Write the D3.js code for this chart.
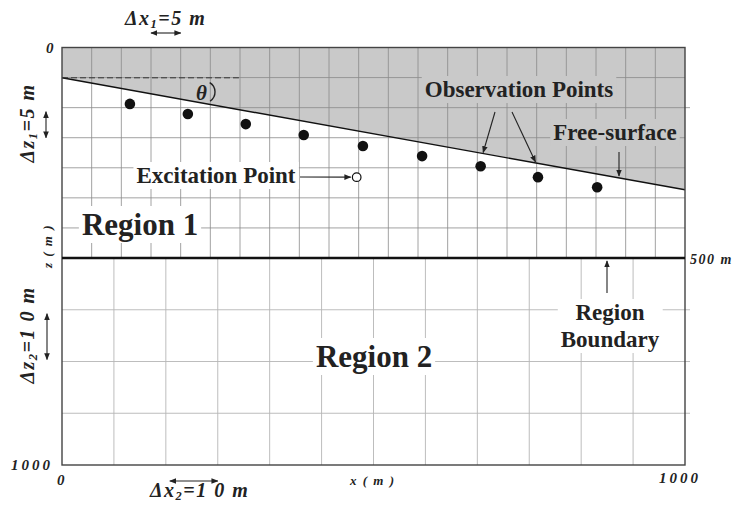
<!DOCTYPE html>
<html>
<head>
<meta charset="utf-8">
<script src="https://cdn.jsdelivr.net/npm/d3@7"></script>
<style>
  body { margin: 0; background: #fff; }
  svg { display: block; }
  text { font-family: "Liberation Serif", "DejaVu Serif", serif; font-weight: bold; fill: #222; }
  .it { font-style: italic; }
</style>
</head>
<body>
<svg id="chart" width="736" height="505"></svg>
<script>
// model domain (m)
var xDomain = [0, 1000];
var zDomain = [0, 500, 1000];

// grid cells of the two regions
var region1Cols = 21, region1Rows = 7;
var region2Cols = 12, region2Rows = 4;

// sloping free surface (depth at x = 0 and x = 1000)
var surfaceX = [0, 1000];
var surfaceZ = [72, 338];

// observation points and excitation point
var obsX = [109, 202, 295, 388, 483, 578, 672, 764, 859];
var obsZ = [134, 158, 182, 208, 234, 258, 282, 308, 332];
var excX = [473];
var excZ = [308];

// axis labels
var xTickLabels = ["0", "1000"];
var zTickLabels = ["0", "1000"];
var boundaryLabel = "500 m";

var svg = d3.select("#chart");

var x = d3.scaleLinear().domain(xDomain).range([62, 685]);
var z = d3.scaleLinear().domain(zDomain).range([47.5, 258, 465]);

var defs = svg.append("defs");
defs.append("marker")
    .attr("id", "head")
    .attr("viewBox", "0 0 10 10")
    .attr("refX", 9).attr("refY", 5)
    .attr("markerWidth", 7).attr("markerHeight", 7)
    .attr("markerUnits", "userSpaceOnUse")
    .attr("orient", "auto-start-reverse")
  .append("path")
    .attr("d", "M0,1 L10,5 L0,9 Z")
    .attr("fill", "#222");

var col1 = (xDomain[1] - xDomain[0]) / region1Cols;
var row1 = (zDomain[1] - zDomain[0]) / region1Rows;
var col2 = (xDomain[1] - xDomain[0]) / region2Cols;
var row2 = (zDomain[2] - zDomain[1]) / region2Rows;

// shaded area above the free surface
var surface = surfaceX.map(function (d, i) { return [d, surfaceZ[i]]; });
svg.append("path")
    .attr("d", d3.line()([[x(0), z(0)], [x(1000), z(0)]].concat(surface.slice().reverse().map(function (p) { return [x(p[0]), z(p[1])]; }))) + "Z")
    .attr("fill", "#c9c9c9");

// grid, region 1
var g1 = svg.append("g").attr("stroke", "#8a8a8a").attr("stroke-width", 0.8);
g1.selectAll(".v1").data(d3.range(1, region1Cols)).enter().append("line")
    .attr("x1", function (d) { return x(d * col1); }).attr("x2", function (d) { return x(d * col1); })
    .attr("y1", z(0)).attr("y2", z(500));
g1.selectAll(".h1").data(d3.range(1, region1Rows)).enter().append("line")
    .attr("x1", x(0)).attr("x2", function (d) { return d == 2 ? x(1000) + 5 : x(1000); })
    .attr("y1", function (d) { return z(d * row1); }).attr("y2", function (d) { return z(d * row1); });

// grid, region 2
var g2 = svg.append("g").attr("stroke", "#b5b5b5").attr("stroke-width", 0.9);
g2.selectAll(".v2").data(d3.range(1, region2Cols)).enter().append("line")
    .attr("x1", function (d) { return x(d * col2); }).attr("x2", function (d) { return x(d * col2); })
    .attr("y1", z(500)).attr("y2", z(1000));
g2.selectAll(".h2").data(d3.range(1, region2Rows)).enter().append("line")
    .attr("x1", x(0)).attr("x2", x(1000) + 5)
    .attr("y1", function (d) { return z(500 + d * row2); }).attr("y2", function (d) { return z(500 + d * row2); });

// free surface line and horizontal reference
svg.append("path")
    .attr("d", d3.line().x(function (d) { return x(d[0]); }).y(function (d) { return z(d[1]); })(surface))
    .attr("stroke", "#111").attr("stroke-width", 1.4).attr("fill", "none");
svg.append("line")
    .attr("x1", x(0)).attr("x2", x(284))
    .attr("y1", z(surfaceZ[0])).attr("y2", z(surfaceZ[0]))
    .attr("stroke", "#333").attr("stroke-width", 1).attr("stroke-dasharray", "6,3");

// frame and region boundary
svg.append("rect")
    .attr("x", x(0)).attr("y", z(0))
    .attr("width", x(1000) - x(0)).attr("height", z(1000) - z(0))
    .attr("fill", "none").attr("stroke", "#444").attr("stroke-width", 1.4);
svg.append("line")
    .attr("x1", x(0)).attr("x2", x(1000))
    .attr("y1", z(500)).attr("y2", z(500))
    .attr("stroke", "#111").attr("stroke-width", 2.6);

// points
svg.selectAll(".obs").data(obsX).enter().append("circle")
    .attr("cx", function (d) { return x(d); })
    .attr("cy", function (d, i) { return z(obsZ[i]); })
    .attr("r", 5.3).attr("fill", "#111");
svg.selectAll(".exc").data(excX).enter().append("circle")
    .attr("cx", function (d) { return x(d); })
    .attr("cy", function (d, i) { return z(excZ[i]); })
    .attr("r", 4.3).attr("fill", "#fff").attr("stroke", "#111").attr("stroke-width", 1.2);

// labels with a background box
function boxLabel(lines, cx, y, size, bg, anchor, lh) {
    var t = svg.append("text")
        .attr("x", cx).attr("y", y)
        .attr("text-anchor", anchor || "middle")
        .attr("font-size", size);
    lines.forEach(function (s, i) {
        t.append("tspan").attr("x", cx).attr("dy", i ? (lh || size) : 0).text(s);
    });
    var b = t.node().getBBox();
    svg.insert("rect", function () { return t.node(); })
        .attr("x", b.x - 3).attr("y", b.y - 1)
        .attr("width", b.width + 6).attr("height", b.height + 2)
        .attr("fill", bg);
    return t;
}

boxLabel(["Region 1"], 140, 235, 31, "#fff");
boxLabel(["Region 2"], 374, 367, 31, "#fff");
boxLabel(["Excitation Point"], 216, 183, 23, "#fff");
boxLabel(["Observation Points"], 519, 97, 23, "#c9c9c9");
boxLabel(["Free-surface"], 615, 140, 23, "#c9c9c9");
boxLabel(["Region", "Boundary"], 610, 320, 23, "#fff", "middle", 27);

// theta
svg.append("text").attr("class", "it").attr("x", 196).attr("y", 100).attr("font-size", 21).text("θ");
svg.append("path")
    .attr("d", d3.arc()({ innerRadius: 11, outerRadius: 11, startAngle: 0.55, endAngle: 2.55 }))
    .attr("transform", "translate(204,92)")
    .attr("fill", "none").attr("stroke", "#222").attr("stroke-width", 1.4);

// arrows
function arrow(x1, y1, x2, y2, both) {
    var l = svg.append("line")
        .attr("x1", x1).attr("y1", y1).attr("x2", x2).attr("y2", y2)
        .attr("stroke", "#222").attr("stroke-width", 1.1)
        .attr("marker-end", "url(#head)");
    if (both) l.attr("marker-start", "url(#head)");
}
arrow(x(3 * col1), 33, x(4 * col1), 33, true);
arrow(46, z(2 * row1) + 4, 46, z(3 * row1), true);
arrow(47, z(500 + row2) + 4, 47, z(500 + 2 * row2) - 2, true);
arrow(x(2 * col2) + 4, 481, x(3 * col2), 481, true);
arrow(300, 177, x(excX[0]) - 6, z(excZ[0]));
arrow(495, 112, x(676), z(surfaceZ[0] + (surfaceZ[1] - surfaceZ[0]) * 0.676) - 1);
arrow(512, 112, x(760), z(surfaceZ[0] + (surfaceZ[1] - surfaceZ[0]) * 0.760) - 1);
arrow(619, 152, 619, 176);
arrow(607, 293, 607, z(500) + 3);

// cell size labels
function deltaLabel(g, v, sub, rest, size) {
    var t = g.append("text").attr("class", "it").attr("font-size", size).attr("letter-spacing", 1.5);
    t.append("tspan").text("Δ");
    t.append("tspan").text(v);
    t.append("tspan").attr("font-size", size * 0.62).attr("dy", 3).text(sub);
    t.append("tspan").attr("dy", -3).text(rest);
    return t;
}
deltaLabel(svg, "x", "1", "=5 m", 20).attr("x", 125).attr("y", 25);
deltaLabel(svg, "x", "2", "=1 0 m", 20).attr("x", 150).attr("y", 497);
deltaLabel(svg.append("g").attr("transform", "translate(34,123) rotate(-90)"), "z", "1", "=5 m", 20).attr("text-anchor", "middle");
deltaLabel(svg.append("g").attr("transform", "translate(34,335) rotate(-90)"), "z", "2", "=1 0 m", 20).attr("text-anchor", "middle");

// tick labels
svg.append("text").attr("class", "it").attr("x", 46).attr("y", 53).attr("font-size", 15).text(zTickLabels[0]);
svg.append("text").attr("class", "it").attr("x", 11).attr("y", 470).attr("font-size", 15).attr("letter-spacing", 3).text(zTickLabels[1]);
svg.append("text").attr("class", "it").attr("x", 57).attr("y", 485).attr("font-size", 15).text(xTickLabels[0]);
svg.append("text").attr("class", "it").attr("x", 659).attr("y", 483).attr("font-size", 15).attr("letter-spacing", 3).text(xTickLabels[1]);
svg.append("text").attr("class", "it").attr("x", 690).attr("y", 264).attr("font-size", 14).attr("letter-spacing", 1.5).text(boundaryLabel);
svg.append("text").attr("class", "it").attr("x", 350).attr("y", 485).attr("font-size", 13).attr("letter-spacing", 1.5).text("x ( m )");
svg.append("text").attr("class", "it").attr("font-size", 13).attr("letter-spacing", 1.5)
    .attr("text-anchor", "middle")
    .attr("transform", "translate(52,246) rotate(-90)").text("z ( m )");
</script>
</body>
</html>
